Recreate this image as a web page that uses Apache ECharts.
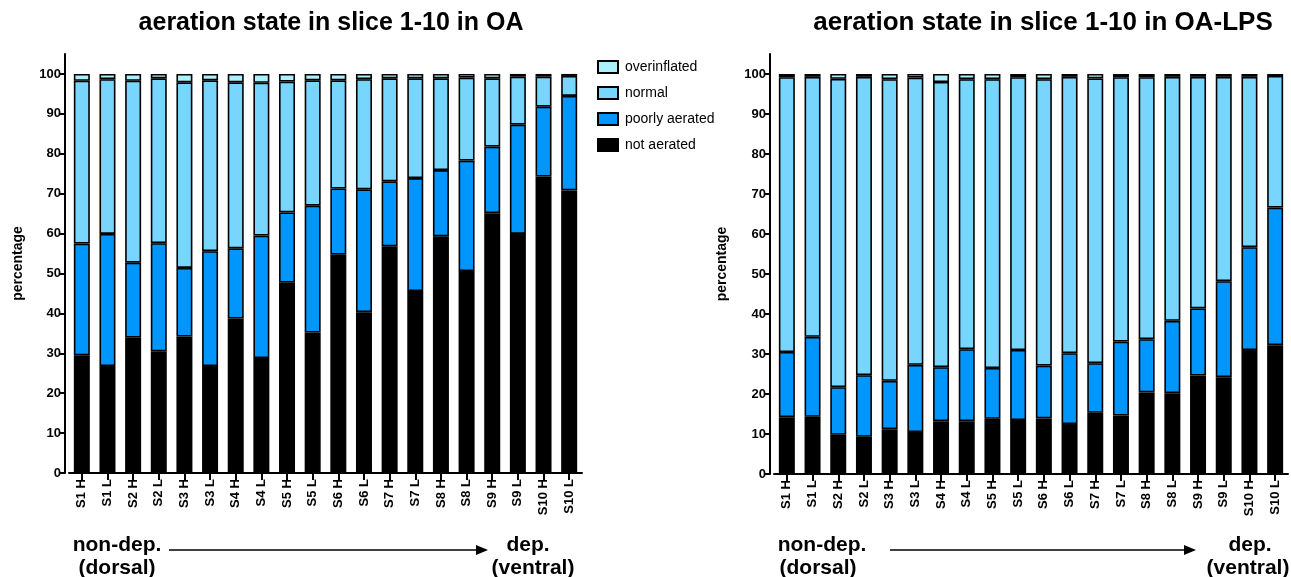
<!DOCTYPE html>
<html>
<head>
<meta charset="utf-8">
<script src="https://cdn.jsdelivr.net/npm/echarts@6/dist/echarts.min.js"></script>
<style>html,body{margin:0;padding:0;background:#fff;}#c{width:1291px;height:577px;}</style>
</head>
<body>
<div id="c"></div>
<script>
const categories = ['S1 H','S1 L','S2 H','S2 L','S3 H','S3 L','S4 H','S4 L','S5 H','S5 L','S6 H','S6 L','S7 H','S7 L','S8 H','S8 L','S9 H','S9 L','S10 H','S10 L'];
const yTicks = [0,10,20,30,40,50,60,70,80,90,100];
const seriesNames = ['not aerated','poorly aerated','normal','overinflated'];

// OA
const oaNotAerated   = [29.5,26.8,33.9,30.5,34.2,26.8,38.7,28.8,47.7,35.2,54.7,40.3,56.8,45.6,59.3,50.6,65.1,59.9,74.3,70.8];
const oaPoorly       = [28.0,33.1,18.8,27.1,17.2,28.8,17.6,30.7,17.6,31.8,16.6,30.8,16.3,28.3,16.6,27.7,16.7,27.4,17.5,23.7];
const oaNormal       = [40.8,38.8,45.6,41.3,46.5,42.8,41.6,38.3,32.8,31.4,27.1,27.6,25.8,25.0,23.0,20.8,17.1,12.0,7.5,5.0];
const oaOverinflated = [1.7,1.3,1.7,1.1,2.1,1.6,2.1,2.2,1.9,1.6,1.6,1.3,1.1,1.1,1.1,0.9,1.1,0.7,0.7,0.5];

// OA-LPS
const lpsNotAerated   = [14.2,14.3,9.8,9.3,11.2,10.5,13.2,13.2,13.8,13.5,13.9,12.5,15.3,14.6,20.4,20.2,24.6,24.2,31.0,32.2];
const lpsPoorly       = [16.3,20.0,11.9,15.4,12.1,16.8,13.5,18.0,12.7,17.5,13.2,17.7,12.4,18.5,13.3,18.1,16.8,24.0,25.7,34.4];
const lpsNormal       = [68.7,65.0,77.1,74.6,75.4,71.8,71.3,67.5,72.2,68.2,71.6,69.1,71.2,66.1,65.5,61.0,57.9,51.1,42.6,32.9];
const lpsOverinflated = [0.8,0.7,1.2,0.7,1.3,0.9,2.0,1.3,1.3,0.8,1.3,0.7,1.1,0.8,0.8,0.7,0.7,0.7,0.7,0.5];

const colors = {'not aerated':'#000000','poorly aerated':'#0096fb','normal':'#78d5fe','overinflated':'#aeeffc'};
const FONT = '"Liberation Sans", Arial, Helvetica, sans-serif';

const chart = echarts.init(document.getElementById('c'), null, {renderer:'canvas'});

function yAxis(gi, gap){
  return {
    type:'value', gridIndex:gi, min:0, max:105, offset:4,
    name:'percentage', nameLocation:'middle', nameGap:gap,
    nameTextStyle:{fontFamily:FONT, fontWeight:'bold', fontSize:14, color:'#000'},
    axisLine:{show:true, lineStyle:{color:'#000', width:2}},
    axisTick:{show:true, length:6, lineStyle:{color:'#000', width:2}, customValues:yTicks},
    axisLabel:{fontFamily:FONT, fontWeight:'bold', fontSize:13, color:'#000', margin:4, customValues:yTicks},
    splitLine:{show:false}
  };
}
function xAxis(gi){
  return {
    type:'category', gridIndex:gi, data:categories,
    axisLine:{show:true, lineStyle:{color:'#000', width:2}},
    axisTick:{show:true, alignWithLabel:true, length:7, lineStyle:{color:'#000', width:2}},
    axisLabel:{rotate:90, fontFamily:FONT, fontWeight:'bold', fontSize:13, color:'#000', margin:6, interval:0}
  };
}
function mkSeries(gi, arrs){
  return seriesNames.map((n,i)=>({
    name:n, type:'bar', stack:'s'+gi, xAxisIndex:gi, yAxisIndex:gi,
    barWidth:16, data:arrs[i],
    itemStyle:{color:colors[n], borderColor:'#000', borderWidth:1.6},
    emphasis:{disabled:true}
  }));
}

function arrow(x1,x2,y){
  return [
    {type:'line', shape:{x1:x1, y1:y, x2:x2-10, y2:y}, style:{stroke:'#000', lineWidth:1.6}},
    {type:'polygon', shape:{points:[[x2,y],[x2-12,y-5],[x2-12,y+5]]}, style:{fill:'#000'}}
  ];
}
function txt(x,y,t,size,weight){
  return {type:'text', x:x, y:y, style:{text:t, font: weight+' '+size+'px '+FONT, fill:'#000', align:'center', verticalAlign:'middle'}};
}

const option = {
  animation:false,
  backgroundColor:'#fff',
  grid:[
    {left:69, right:709, top:54, bottom:104, containLabel:false},
    {left:774, right:3, top:54, bottom:103, containLabel:false}
  ],
  legend:{
    data:['overinflated','normal','poorly aerated','not aerated'],
    orient:'vertical', left:592, top:55, itemWidth:20, itemHeight:12, itemGap:12,
    icon:'rect',
    textStyle:{fontFamily:FONT, fontSize:14, color:'#000', padding:[0,0,0,2]},
    selectedMode:false
  },
  xAxis:[xAxis(0), xAxis(1)],
  yAxis:[yAxis(0,40), yAxis(1,41)],
  series:[...mkSeries(0,[oaNotAerated,oaPoorly,oaNormal,oaOverinflated]),
          ...mkSeries(1,[lpsNotAerated,lpsPoorly,lpsNormal,lpsOverinflated])],
  graphic:[
    txt(331,23,'aeration state in slice 1-10 in OA',25,'bold'),
    txt(1043,23,'aeration state in slice 1-10 in OA-LPS',26,'bold'),
    txt(117,545,'non-dep.',21,'bold'),
    txt(117,568,'(dorsal)',21,'bold'),
    txt(528,545,'dep.',21,'bold'),
    txt(533,568,'(ventral)',21,'bold'),
    txt(822,545,'non-dep.',21,'bold'),
    txt(818,568,'(dorsal)',21,'bold'),
    txt(1250,545,'dep.',21,'bold'),
    txt(1248,568,'(ventral)',21,'bold'),
    ...arrow(169,488,550),
    ...arrow(890,1196,550)
  ]
};
chart.setOption(option);
</script>
</body>
</html>
